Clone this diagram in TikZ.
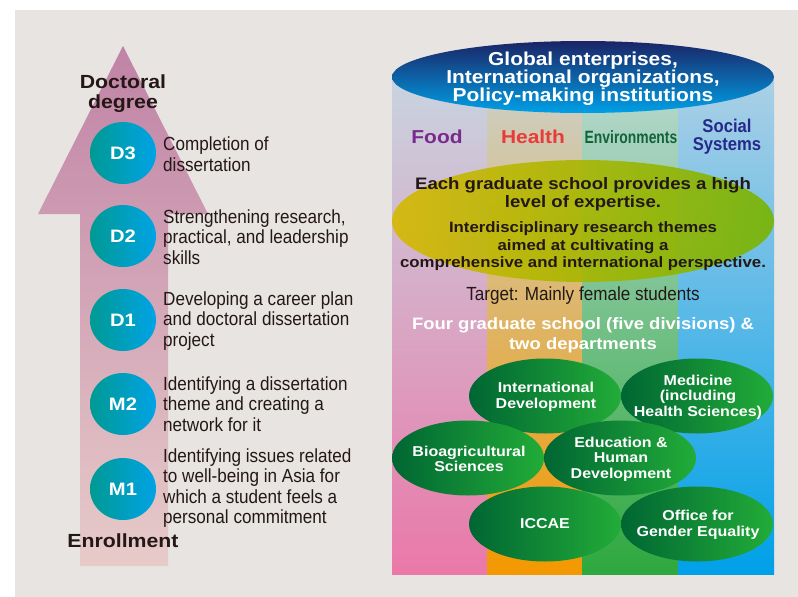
\documentclass[tikz,border=0pt]{standalone}
\usepackage{fontspec}
\setmainfont{Liberation Sans}
\newfontfamily\condf[FakeStretch=0.9]{Liberation Sans}
\newfontfamily\narrf[FakeStretch=0.78]{Liberation Sans}
\newfontfamily\widef[FakeStretch=1.12]{Liberation Sans}
\usetikzlibrary{shapes.geometric}
\definecolor{bg}{HTML}{E8E4E1}
\definecolor{ink}{HTML}{231815}
\definecolor{arrtop}{HTML}{C083A6}
\definecolor{arrbot}{HTML}{E7CBC9}
\definecolor{tealc}{HTML}{009A93}
\definecolor{bluec}{HTML}{00A3E6}
\definecolor{gdark}{HTML}{006633}
\definecolor{glight}{HTML}{22AC38}
\definecolor{navy}{HTML}{1A2466}
\definecolor{skyb}{HTML}{00A0E6}
\definecolor{yel}{HTML}{D6B800}
\definecolor{ygr}{HTML}{78B400}
\definecolor{foodc}{HTML}{7A2A8C}
\definecolor{healthc}{HTML}{E83B3B}
\definecolor{envc}{HTML}{11643A}
\definecolor{socc}{HTML}{27288A}
\definecolor{c1t}{HTML}{C8D4E0}\definecolor{c1m}{HTML}{D9B0D0}\definecolor{c1b}{HTML}{EA78A8}
\definecolor{c2t}{HTML}{CBD0C8}\definecolor{c2m}{HTML}{E2C080}\definecolor{c2b}{HTML}{F39800}
\definecolor{c3t}{HTML}{B8D8D0}\definecolor{c3m}{HTML}{8CC48C}\definecolor{c3b}{HTML}{2EA83E}
\definecolor{c4t}{HTML}{ACD0E6}\definecolor{c4m}{HTML}{6CC0E8}\definecolor{c4b}{HTML}{00A0E8}
\begin{document}
\begin{tikzpicture}[x=1pt,y=-1pt,
  stepcirc/.style={ellipse, minimum width=66, minimum height=62, inner sep=0,
    left color=tealc, right color=bluec, text=white,
    font=\widef\bfseries\fontsize{18}{18}\selectfont},
  desc/.style={anchor=west, align=left, text=ink, inner sep=0,
    font=\condf\fontsize{19}{20.5}\selectfont},
  milestone/.style={text=ink, align=center, inner sep=0,
    font=\widef\bfseries\fontsize{19}{20}\selectfont},
  gschool/.style={ellipse, minimum width=152, minimum height=75, inner sep=0,
    left color=gdark, right color=glight},
  gtext/.style={text=white, align=center, inner sep=0,
    font=\widef\bfseries\fontsize{14.3}{15.5}\selectfont},
  cat/.style={inner sep=0, align=center, font=\widef\bfseries\fontsize{18.7}{18}\selectfont},
]
\useasboundingbox (0,0) rectangle (798,597);
\fill[white] (0,0) rectangle (798,597);
\fill[bg] (15,10) rectangle (798,597);

% ---------- left: progress arrow ----------
\shade[top color=arrtop, bottom color=arrbot]
  (123,46) -- (208,214) -- (168,214) -- (168,566) -- (80,566) -- (80,214) -- (38,214) -- cycle;

\node[milestone] (doc) at (123,93.5) {Doctoral\\degree};
\node[milestone] (enr) at (123,541) {Enrollment};

\node[stepcirc] (d3) at (123,153) {D3};
\node[stepcirc] (d2) at (123,236) {D2};
\node[stepcirc] (d1) at (123,320) {D1};
\node[stepcirc] (m2) at (123,404) {M2};
\node[stepcirc] (m1) at (123,489) {M1};

\node[desc] (t3) at (163,154) {Completion of\\dissertation};
\node[desc] (t2) at (163,237) {Strengthening research,\\practical, and leadership\\skills};
\node[desc] (t1) at (163,321) {Developing a career plan\\and doctoral dissertation\\project};
\node[desc] (tm2) at (163,404) {Identifying a dissertation\\theme and creating a\\network for it};
\node[desc] (tm1) at (163,488) {Identifying issues related\\to well-being in Asia for\\which a student feels a\\personal commitment};

% ---------- right: cylinder ----------
\shade[top color=c1t, middle color=c1m, bottom color=c1b] (392,77) rectangle (487,574);
\shade[top color=c2t, middle color=c2m, bottom color=c2b] (487,77) rectangle (582,574);
\shade[top color=c3t, middle color=c3m, bottom color=c3b] (582,77) rectangle (678,574);
\shade[top color=c4t, middle color=c4m, bottom color=c4b] (678,77) rectangle (774,574);

\node[ellipse, minimum width=382, minimum height=72, inner sep=0,
  top color=navy, bottom color=skyb] (top) at (583,77) {};
\node[text=white, align=center, inner sep=0,
  font=\widef\bfseries\fontsize{18.7}{18}\selectfont] (toptxt) at (583,78.5)
  {Global enterprises,\\International organizations,\\Policy-making institutions};

\node[cat, text=foodc] (food) at (437,137) {Food};
\node[cat, text=healthc] (health) at (533,137) {Health};
\node[cat, text=envc, font=\narrf\bfseries\fontsize{17.8}{18}\selectfont] (env) at (631,137) {Environments};
\node[cat, text=socc, font=\condf\bfseries\fontsize{18.5}{18}\selectfont] (soc) at (727,137) {Social\\Systems};

\node[ellipse, minimum width=382, minimum height=122, inner sep=0,
  left color=yel, right color=ygr, fill opacity=0.9] (yell) at (583,221) {};
\node[text=ink, align=center, inner sep=0,
  font=\widef\bfseries\fontsize{16.6}{18}\selectfont] (expert) at (583,194)
  {Each graduate school provides a high\\level of expertise.};
\node[text=ink, align=center, inner sep=0,
  font=\widef\bfseries\fontsize{15}{17.5}\selectfont] (inter) at (583,246.5)
  {Interdisciplinary research themes\\aimed at cultivating a\\comprehensive and international perspective.};

\node[text=ink, inner sep=0, font=\condf\fontsize{19}{18}\selectfont] (target) at (583,296)
  {Target: Mainly female students};
\node[text=white, align=center, inner sep=0,
  font=\widef\bfseries\fontsize{16.5}{20}\selectfont] (four) at (583,335)
  {Four graduate school (five divisions) \&\\two departments};

\node[gschool] (intdev) at (545,396) {};
\node[gtext] (intdevl) at (546,397) {International\\Development};
\node[gschool] (med) at (697,396) {};
\node[gtext] (medl) at (698,397) {Medicine\\(including\\Health Sciences)};
\node[gschool] (bio) at (468,458) {};
\node[gtext] (biol) at (469,459) {Bioagricultural\\Sciences};
\node[gschool] (edu) at (620,458) {};
\node[gtext] (edul) at (621,459) {Education \&\\Human\\Development};
\node[gschool] (iccae) at (545,524) {};
\node[gtext] (iccael) at (545,524) {ICCAE};
\node[gschool] (ofge) at (697,524) {};
\node[gtext] (ofgel) at (698,525) {Office for\\Gender Equality};
\end{tikzpicture}
\end{document}
